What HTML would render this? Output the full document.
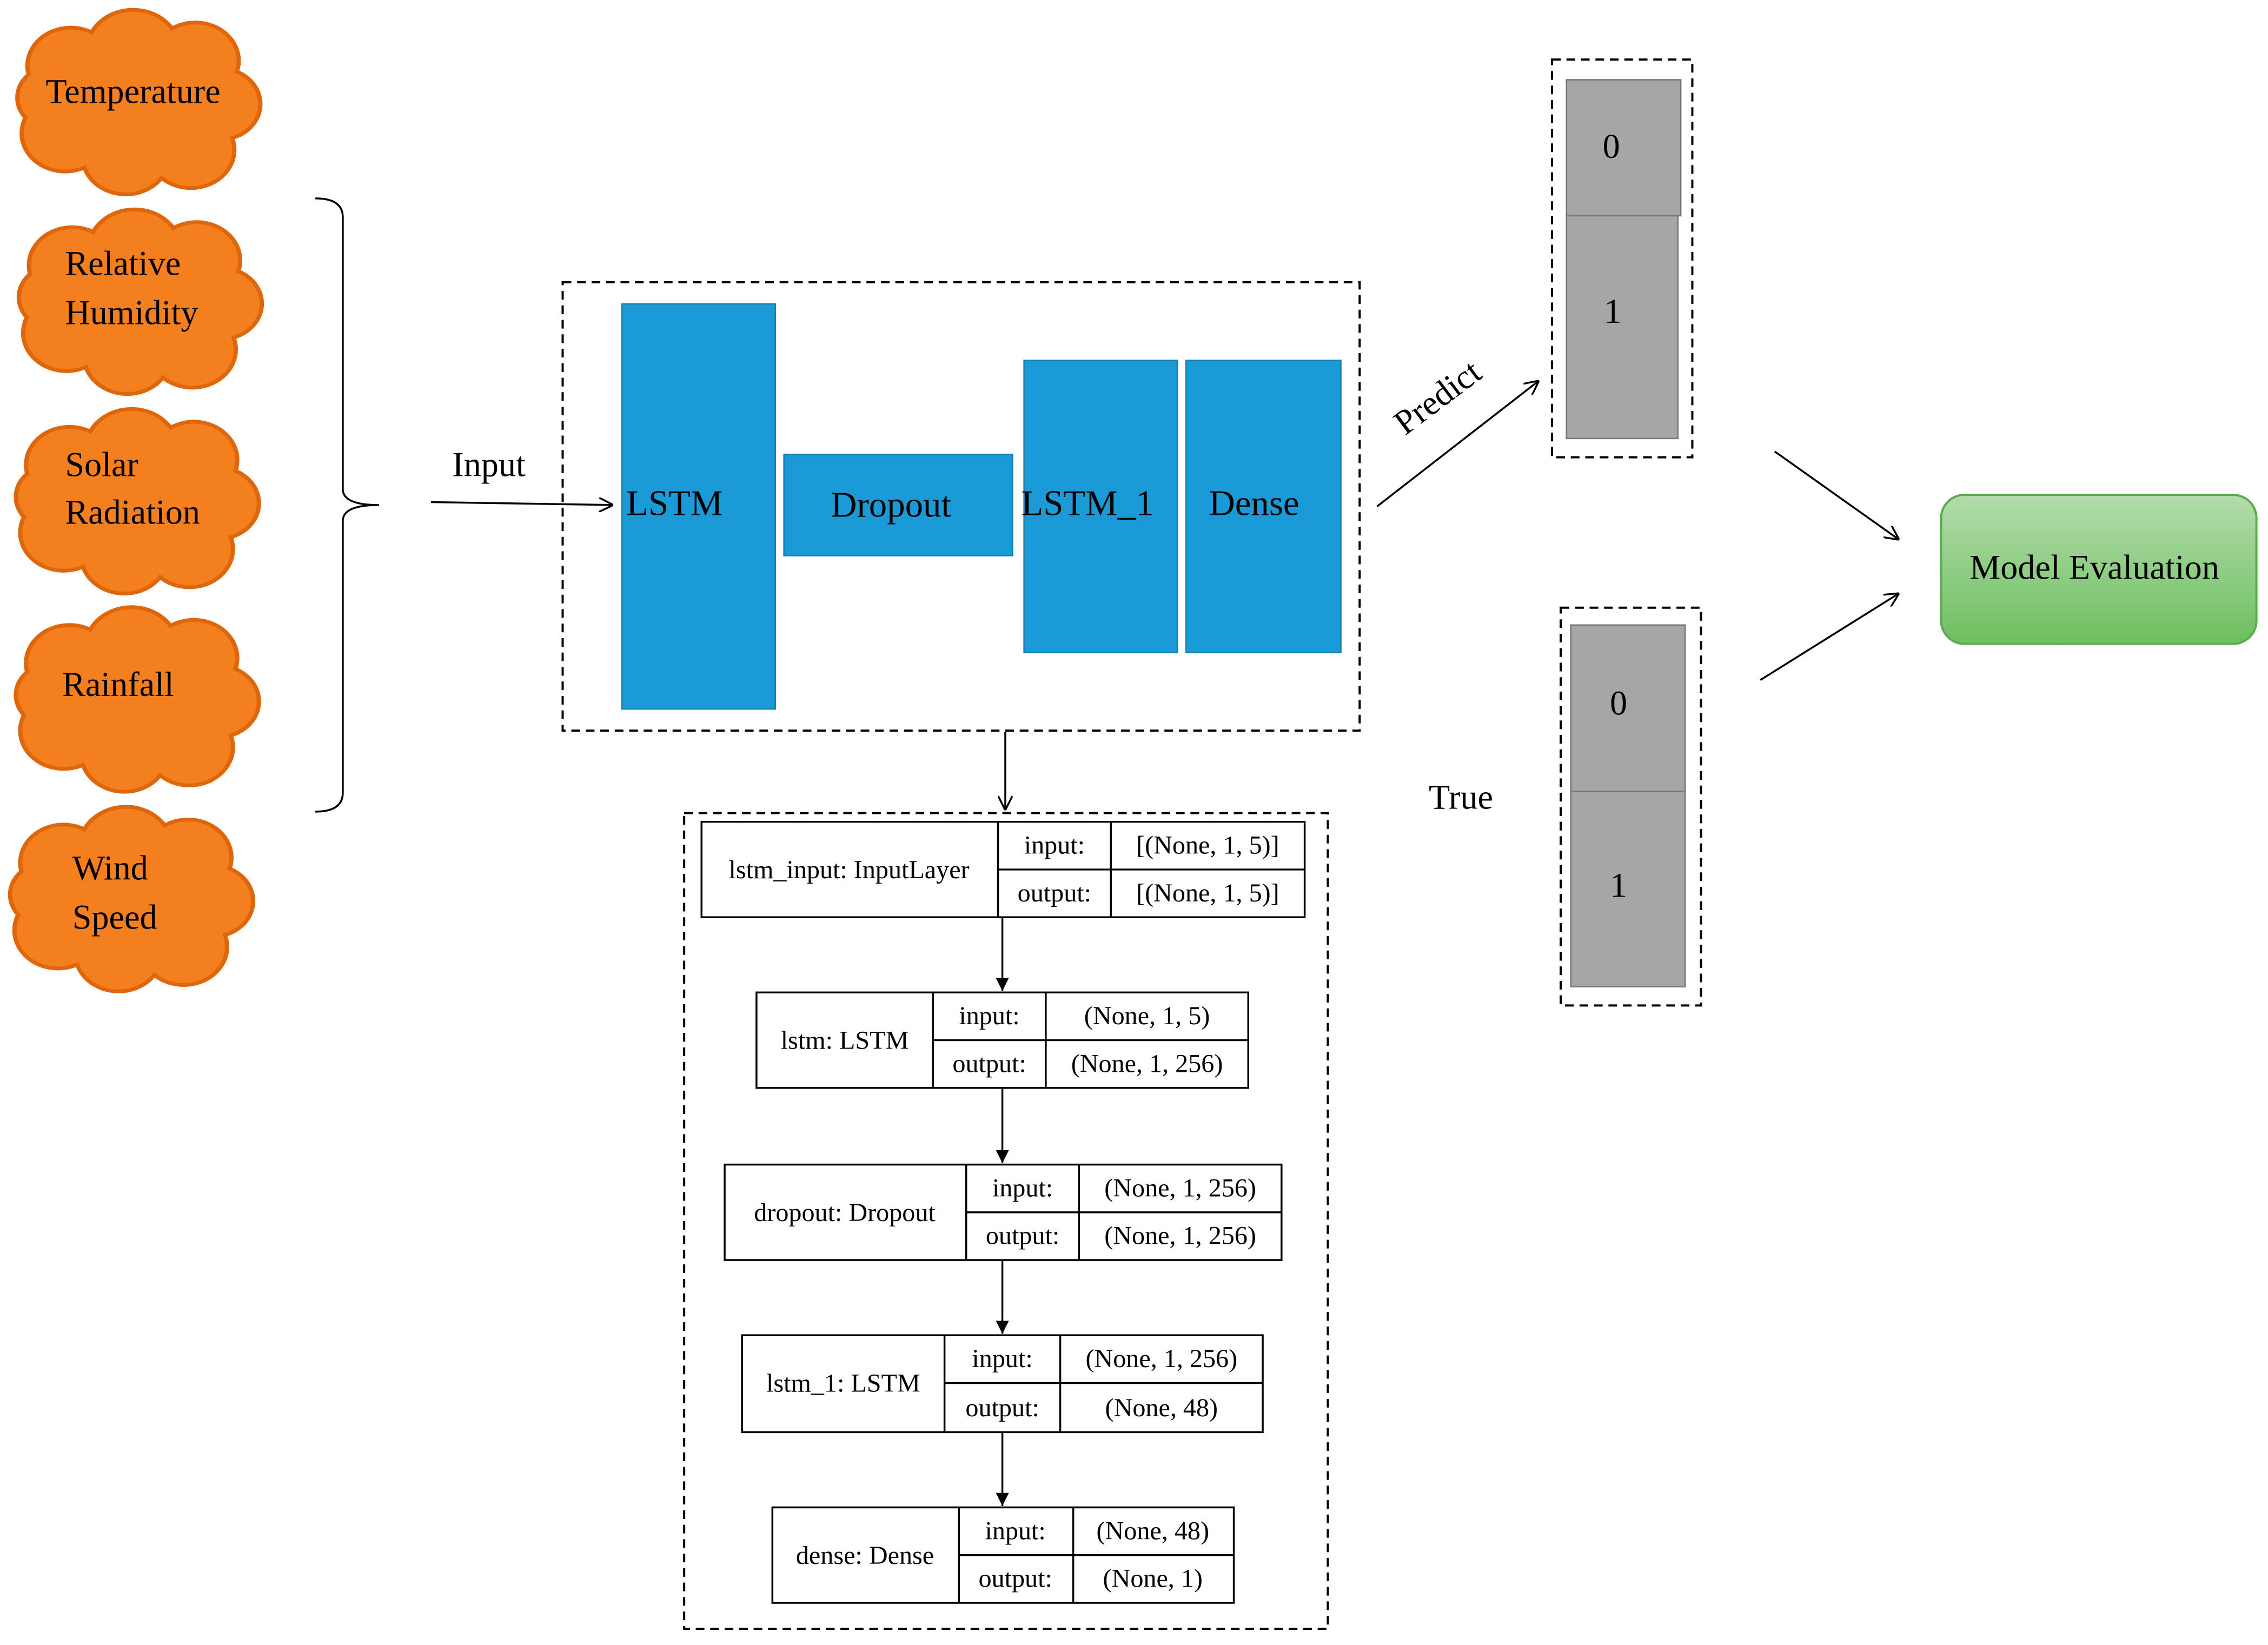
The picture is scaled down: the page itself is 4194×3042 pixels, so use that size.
<!DOCTYPE html>
<html><head><meta charset="utf-8"><style>
html,body{margin:0;padding:0;background:#fff;}
svg{display:block;}
text{font-family:"Liberation Serif",serif;}
</style></head><body>
<svg width="4194" height="3042" viewBox="0 0 1568 1137" xmlns="http://www.w3.org/2000/svg">
<defs>
<marker id="a" viewBox="0 0 10 10" refX="10" refY="5" markerWidth="10" markerHeight="10" markerUnits="userSpaceOnUse" orient="auto"><path d="M0,0 L10,5 L0,10" fill="none" stroke="#000" stroke-width="1.3"/></marker>
<marker id="b" viewBox="0 0 10 10" refX="10" refY="5" markerWidth="9" markerHeight="9" markerUnits="userSpaceOnUse" orient="auto"><path d="M0,0 L10,5 L0,10 z" fill="#000"/></marker>
<g id="cl0">
<g fill="#f47f1f" stroke="#e0660c" stroke-width="3">
<circle cx="-48" cy="-28" r="30"/><circle cx="-5" cy="-40" r="32"/><circle cx="38" cy="-32" r="30"/><circle cx="55" cy="2" r="28"/><circle cx="35" cy="38" r="30"/><circle cx="-10" cy="43" r="30"/><circle cx="-52" cy="25" r="30"/><circle cx="-60" cy="-3" r="25"/></g>
<g fill="#f47f1f">
<circle cx="-48" cy="-28" r="28.5"/><circle cx="-5" cy="-40" r="30.5"/><circle cx="38" cy="-32" r="28.5"/><circle cx="55" cy="2" r="26.5"/><circle cx="35" cy="38" r="28.5"/><circle cx="-10" cy="43" r="28.5"/><circle cx="-52" cy="25" r="28.5"/><circle cx="-60" cy="-3" r="23.5"/><ellipse cx="0" cy="0" rx="60" ry="45"/></g>
</g>
<g id="cl"><use href="#cl0" transform="scale(1,0.88)"/></g>
<linearGradient id="g" x1="0" y1="0" x2="0" y2="1"><stop offset="0" stop-color="#b3dcab"/><stop offset="1" stop-color="#6dbf5f"/></linearGradient>
</defs>

<use href="#cl" x="97" y="70"/>
<use href="#cl" x="98" y="208"/>
<use href="#cl" x="96" y="346"/>
<use href="#cl" x="96" y="483"/>
<use href="#cl" x="92" y="621"/>
<g font-size="24" fill="#000">
<text x="92" y="71" text-anchor="middle">Temperature</text>
<text x="45" y="190">Relative</text><text x="45" y="224">Humidity</text>
<text x="45" y="329">Solar</text><text x="45" y="362">Radiation</text>
<text x="43" y="481">Rainfall</text>
<text x="50" y="608">Wind</text><text x="50" y="642">Speed</text>
</g>

<path d="M218,137 Q237,137 237,150 L237,338 Q237,349 262,349 Q237,349 237,360 L237,548 Q237,561 218,561" fill="none" stroke="#000" stroke-width="1.3"/>

<line x1="298" y1="347" x2="424" y2="349" stroke="#000" stroke-width="1.3" marker-end="url(#a)"/>
<text x="338" y="329" font-size="24" text-anchor="middle">Input</text>

<rect x="389" y="195" width="551" height="310" fill="none" stroke="#000" stroke-width="1.5" stroke-dasharray="6,4"/>
<g fill="#1a9ad6" stroke="#1580b8" stroke-width="1">
<rect x="430" y="210" width="106" height="280"/>
<rect x="542" y="314" width="158" height="70"/>
<rect x="708" y="249" width="106" height="202"/>
<rect x="820" y="249" width="107" height="202"/>
</g>
<g font-size="25" fill="#000">
<text x="433" y="356">LSTM</text>
<text x="616" y="357" text-anchor="middle">Dropout</text>
<text x="706" y="356">LSTM_1</text>
<text x="867" y="356" text-anchor="middle">Dense</text>
</g>

<line x1="695" y1="506" x2="695" y2="560" stroke="#000" stroke-width="1.3" marker-end="url(#a)"/>
<rect x="473" y="562" width="445" height="564" fill="none" stroke="#000" stroke-width="1.5" stroke-dasharray="6,4"/>

<g fill="none" stroke="#000" stroke-width="1.3">
<rect x="485" y="568" width="417" height="66"/><line x1="690" y1="568" x2="690" y2="634"/><line x1="768" y1="568" x2="768" y2="634"/><line x1="690" y1="601" x2="902" y2="601"/>
<rect x="523" y="686" width="340" height="66"/><line x1="645" y1="686" x2="645" y2="752"/><line x1="723" y1="686" x2="723" y2="752"/><line x1="645" y1="719" x2="863" y2="719"/>
<rect x="501" y="805" width="385" height="66"/><line x1="668" y1="805" x2="668" y2="871"/><line x1="746" y1="805" x2="746" y2="871"/><line x1="668" y1="838" x2="886" y2="838"/>
<rect x="513" y="923" width="360" height="67"/><line x1="653" y1="923" x2="653" y2="990"/><line x1="733" y1="923" x2="733" y2="990"/><line x1="653" y1="956" x2="873" y2="956"/>
<rect x="534" y="1042" width="319" height="66"/><line x1="663" y1="1042" x2="663" y2="1108"/><line x1="742" y1="1042" x2="742" y2="1108"/><line x1="663" y1="1075" x2="853" y2="1075"/>
<line x1="693" y1="634" x2="693" y2="685" marker-end="url(#b)"/>
<line x1="693" y1="752" x2="693" y2="804" marker-end="url(#b)"/>
<line x1="693" y1="871" x2="693" y2="922" marker-end="url(#b)"/>
<line x1="693" y1="990" x2="693" y2="1041" marker-end="url(#b)"/>
</g>
<g font-size="18" fill="#000" text-anchor="middle">
<text x="587" y="607">lstm_input: InputLayer</text><text x="729" y="590">input:</text><text x="729" y="623">output:</text><text x="835" y="590">[(None, 1, 5)]</text><text x="835" y="623">[(None, 1, 5)]</text>
<text x="584" y="725">lstm: LSTM</text><text x="684" y="708">input:</text><text x="684" y="741">output:</text><text x="793" y="708">(None, 1, 5)</text><text x="793" y="741">(None, 1, 256)</text>
<text x="584" y="844">dropout: Dropout</text><text x="707" y="827">input:</text><text x="707" y="860">output:</text><text x="816" y="827">(None, 1, 256)</text><text x="816" y="860">(None, 1, 256)</text>
<text x="583" y="962">lstm_1: LSTM</text><text x="693" y="945">input:</text><text x="693" y="979">output:</text><text x="803" y="945">(None, 1, 256)</text><text x="803" y="979">(None, 48)</text>
<text x="598" y="1081">dense: Dense</text><text x="702" y="1064">input:</text><text x="702" y="1097">output:</text><text x="797" y="1064">(None, 48)</text><text x="797" y="1097">(None, 1)</text>
</g>

<line x1="952" y1="350" x2="1064" y2="263" stroke="#000" stroke-width="1.3" marker-end="url(#a)"/>
<text x="995" y="282" font-size="24" text-anchor="middle" transform="rotate(-37 995 276)">Predict</text>

<rect x="1073" y="41" width="97" height="275" fill="none" stroke="#000" stroke-width="1.5" stroke-dasharray="6,4"/>
<rect x="1083" y="55" width="79" height="94" fill="#a6a6a6" stroke="#777" stroke-width="1"/>
<rect x="1083" y="149" width="77" height="154" fill="#a6a6a6" stroke="#777" stroke-width="1"/>
<text x="1114" y="109" font-size="24" text-anchor="middle">0</text>
<text x="1115" y="223" font-size="24" text-anchor="middle">1</text>

<rect x="1079" y="420" width="97" height="275" fill="none" stroke="#000" stroke-width="1.5" stroke-dasharray="6,4"/>
<rect x="1086" y="432" width="79" height="115" fill="#a6a6a6" stroke="#777" stroke-width="1"/>
<rect x="1086" y="547" width="79" height="135" fill="#a6a6a6" stroke="#777" stroke-width="1"/>
<text x="1119" y="494" font-size="24" text-anchor="middle">0</text>
<text x="1119" y="620" font-size="24" text-anchor="middle">1</text>
<text x="1010" y="559" font-size="24" text-anchor="middle">True</text>

<line x1="1227" y1="312" x2="1313" y2="373" stroke="#000" stroke-width="1.3" marker-end="url(#a)"/>
<line x1="1217" y1="470" x2="1313" y2="410" stroke="#000" stroke-width="1.3" marker-end="url(#a)"/>

<rect x="1342" y="342" width="218" height="103" rx="16" fill="url(#g)" stroke="#5aab4f" stroke-width="1.5"/>
<text x="1448" y="400" font-size="24" text-anchor="middle">Model Evaluation</text>
</svg>
</body></html>
